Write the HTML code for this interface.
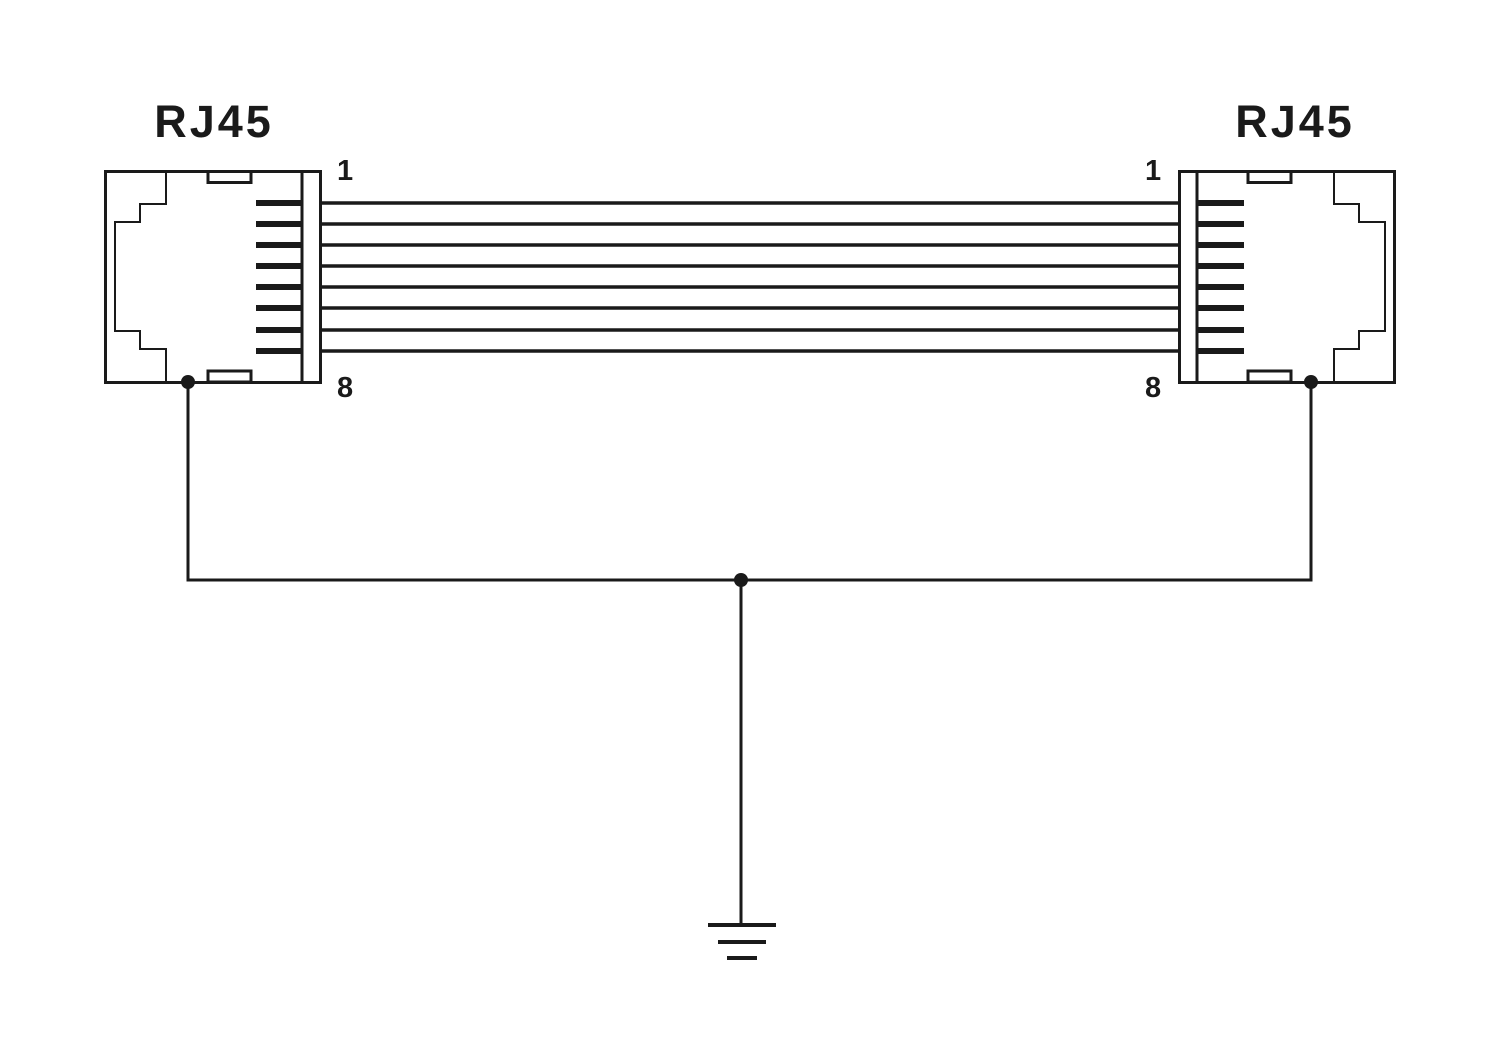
<!DOCTYPE html>
<html><head><style>body{margin:0;background:#fff}svg{display:block}</style></head><body>
<svg width="1500" height="1055" viewBox="0 0 1500 1055" xmlns="http://www.w3.org/2000/svg">
<g fill="none" stroke="#1a1a1a" stroke-width="3">
<rect x="105.5" y="171.5" width="215" height="211"/>
<line x1="302" y1="171" x2="302" y2="382"/>
<rect x="208" y="171.5" width="43" height="11"/>
<rect x="208" y="371" width="43" height="11"/>
<rect x="1179.5" y="171.5" width="215" height="211"/>
<line x1="1197" y1="171" x2="1197" y2="382"/>
<rect x="1248" y="171.5" width="43" height="11"/>
<rect x="1248" y="371" width="43" height="11"/>
</g>
<g fill="none" stroke="#1a1a1a" stroke-width="2">
<polyline points="166,171 166,204 140,204 140,222 115,222 115,331 140,331 140,349 166,349 166,382"/>
<polyline points="1334,171 1334,204 1359,204 1359,222 1385,222 1385,331 1359,331 1359,349 1334,349 1334,382"/>
</g>
<g stroke="#1a1a1a">
<g stroke-width="6">
<line x1="256" y1="203" x2="302" y2="203"/><line x1="256" y1="224" x2="302" y2="224"/>
<line x1="256" y1="245" x2="302" y2="245"/><line x1="256" y1="266" x2="302" y2="266"/>
<line x1="256" y1="287" x2="302" y2="287"/><line x1="256" y1="308" x2="302" y2="308"/>
<line x1="256" y1="330" x2="302" y2="330"/><line x1="256" y1="351" x2="302" y2="351"/>
<line x1="1197" y1="203" x2="1244" y2="203"/><line x1="1197" y1="224" x2="1244" y2="224"/>
<line x1="1197" y1="245" x2="1244" y2="245"/><line x1="1197" y1="266" x2="1244" y2="266"/>
<line x1="1197" y1="287" x2="1244" y2="287"/><line x1="1197" y1="308" x2="1244" y2="308"/>
<line x1="1197" y1="330" x2="1244" y2="330"/><line x1="1197" y1="351" x2="1244" y2="351"/>
</g>
<g stroke-width="3.5">
<line x1="320" y1="203" x2="1180" y2="203"/><line x1="320" y1="224" x2="1180" y2="224"/>
<line x1="320" y1="245" x2="1180" y2="245"/><line x1="320" y1="266" x2="1180" y2="266"/>
<line x1="320" y1="287" x2="1180" y2="287"/><line x1="320" y1="308" x2="1180" y2="308"/>
<line x1="320" y1="330" x2="1180" y2="330"/><line x1="320" y1="351" x2="1180" y2="351"/>
</g>
<polyline points="188,382 188,580 1311,580 1311,382" fill="none" stroke-width="3"/>
<line x1="741" y1="580" x2="741" y2="925" stroke-width="3"/>
<g stroke-width="4">
<line x1="708" y1="925" x2="776" y2="925"/>
<line x1="718" y1="942" x2="766" y2="942"/>
<line x1="727" y1="958" x2="757" y2="958"/>
</g>
</g>
<g fill="#1a1a1a">
<circle cx="188" cy="382" r="7"/><circle cx="1311" cy="382" r="7"/><circle cx="741" cy="580" r="7"/>
</g>
<g font-family="Liberation Sans, sans-serif" font-weight="bold" fill="#1a1a1a">
<text x="214" y="137" font-size="45" letter-spacing="3" text-anchor="middle">RJ45</text>
<text x="1295" y="137" font-size="45" letter-spacing="3" text-anchor="middle">RJ45</text>
<text x="337" y="180" font-size="29">1</text>
<text x="337" y="397" font-size="29">8</text>
<text x="1145" y="180" font-size="29">1</text>
<text x="1145" y="397" font-size="29">8</text>
</g>
</svg>
</body></html>
